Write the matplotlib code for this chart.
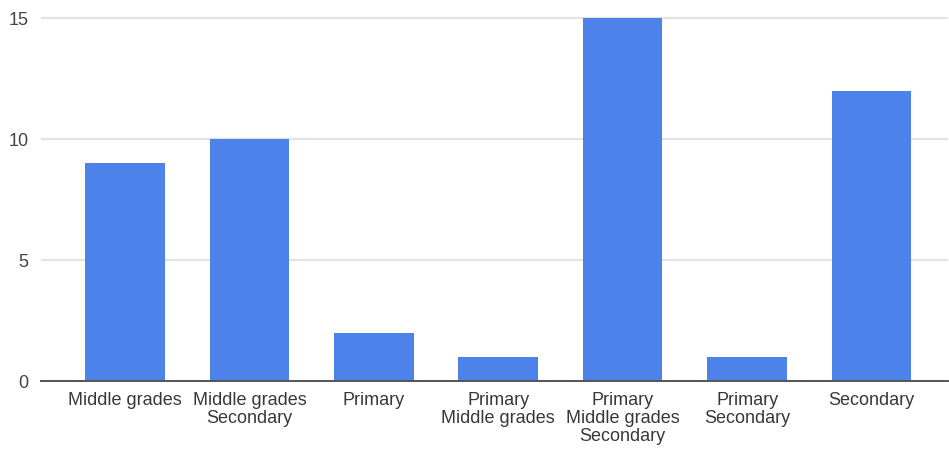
import matplotlib.pyplot as plt

# --- Data ---
categories = [
    "Middle grades",
    "Middle grades\nSecondary",
    "Primary",
    "Primary\nMiddle grades",
    "Primary\nMiddle grades\nSecondary",
    "Primary\nSecondary",
    "Secondary",
]
counts = [9, 10, 2, 1, 15, 1, 12]
y_ticks = [0, 5, 10, 15]

plt.rcParams['font.family'] = ['Liberation Sans', 'DejaVu Sans']

fig = plt.figure(figsize=(9.49, 4.49), dpi=100)
ax = fig.add_axes([41 / 949, 68 / 449, 907 / 949, (381 - 6) / 449])

x = range(len(categories))
ax.bar(x, counts, width=0.64, color="#4E82EB", zorder=3)

# --- Axes styling ---
ax.set_xlim(-0.675, 6.615)
ax.set_ylim(0, 15.5)
ax.set_yticks(y_ticks)
ax.set_xticks(list(x))
ax.set_xticklabels(categories, fontsize=13, color="#383838", linespacing=1.07)
ax.tick_params(axis='y', labelsize=13, labelcolor="#444444", length=0, pad=9)
ax.tick_params(axis='x', length=0, pad=8)

ax.grid(axis='y', color="#e3e3e3", linewidth=1.6, zorder=0)
for side in ("top", "right", "left"):
    ax.spines[side].set_visible(False)
ax.spines["bottom"].set_color("#555555")
ax.spines["bottom"].set_linewidth(1.4)
ax.spines["bottom"].set_zorder(4)

fig.savefig("out.png", dpi=100)
